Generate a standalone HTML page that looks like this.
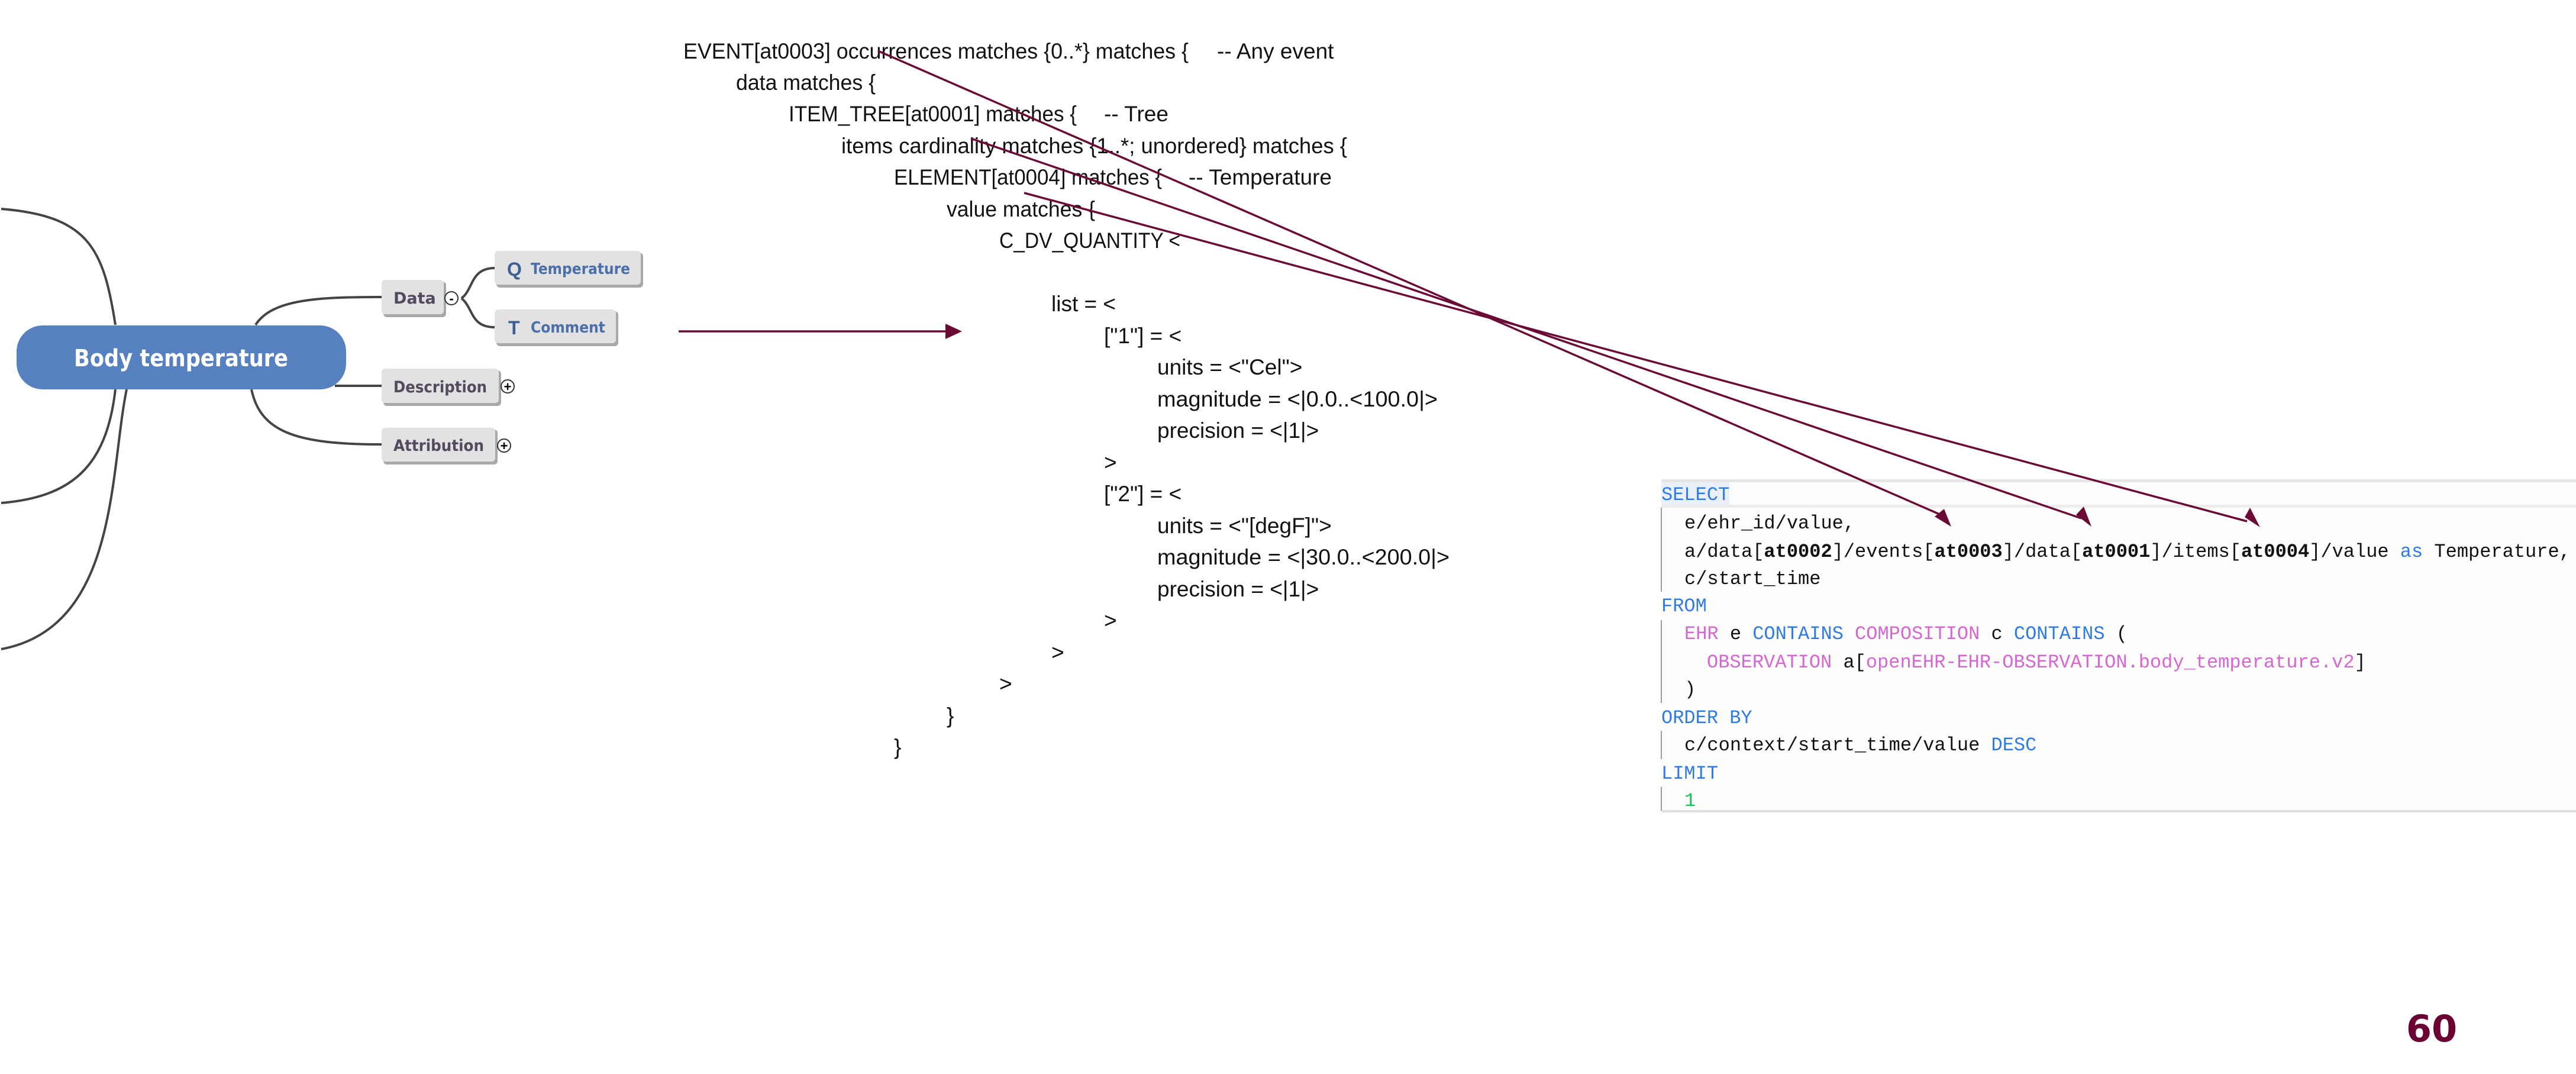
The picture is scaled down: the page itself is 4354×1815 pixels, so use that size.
<!DOCTYPE html>
<html><head><meta charset="utf-8"><style>
html,body{margin:0;padding:0;background:#fff}
svg{display:block}
.adl{font-family:"Liberation Sans",sans-serif;font-size:37px;fill:#111}
.mm{font-family:"DejaVu Sans","Liberation Sans",sans-serif;font-weight:bold}
.sql{font-family:"Liberation Mono",monospace;font-size:32px;fill:#111}
.kw{fill:#2f7be6}.mg{fill:#d766d4}.gr{fill:#17c25a}
</style></head><body>
<svg width="4354" height="1815" viewBox="0 0 4354 1815" xmlns="http://www.w3.org/2000/svg">
<defs>
<marker id="ah" markerWidth="10" markerHeight="8" refX="9" refY="4" orient="auto" markerUnits="userSpaceOnUse" viewBox="0 0 10 8" style="overflow:visible">
</marker>
</defs>
<!-- mind map curves -->
<g fill="none" stroke="#444" stroke-width="4">
<path d="M2,353 C150,365 175,420 195,549"/>
<path d="M195,658 C180,790 120,840 2,850"/>
<path d="M214,658 C185,800 200,1060 2,1097"/>
<path d="M432,549 C460,505 540,502 645,502"/>
<path d="M566,652 L645,652"/>
<path d="M425,658 C440,730 500,751 645,751"/>
<path d="M780,504 C800,490 795,453 836,453"/>
<path d="M780,504 C800,520 795,553 836,553"/>
</g>
<!-- main node -->
<rect x="28" y="550" width="557" height="108" rx="44" fill="#5780c0"/>
<text x="306" y="619" text-anchor="middle" class="mm" font-size="40" fill="#fff" textLength="362" lengthAdjust="spacingAndGlyphs">Body temperature</text>
<!-- child nodes -->
<g>
<rect x="648" y="476" width="106" height="60" rx="6" fill="#a9a9a9"/>
<rect x="645" y="473" width="105" height="58" rx="6" fill="#e2e2e2"/>
<text x="665" y="513" class="mm" font-size="27" fill="#544a60">Data</text>
<circle cx="763" cy="504" r="11" fill="#fff" stroke="#333" stroke-width="2"/>
<text x="763" y="512" text-anchor="middle" font-family="Liberation Sans" font-weight="bold" font-size="22" fill="#000">-</text>

<rect x="839" y="427" width="248" height="59" rx="6" fill="#a9a9a9"/>
<rect x="836" y="424" width="247" height="57" rx="6" fill="#e2e2e2"/>
<text x="857" y="466" font-family="Liberation Sans" font-weight="bold" font-size="32" fill="#3e5f95">Q</text>
<text x="897" y="463" class="mm" font-size="26" fill="#4a6fab" textLength="168" lengthAdjust="spacingAndGlyphs">Temperature</text>

<rect x="839" y="526" width="206" height="59" rx="6" fill="#a9a9a9"/>
<rect x="836" y="523" width="205" height="57" rx="6" fill="#e2e2e2"/>
<text x="859" y="565" font-family="Liberation Sans" font-weight="bold" font-size="32" fill="#3e5f95">T</text>
<text x="897" y="562" class="mm" font-size="26" fill="#4a6fab" textLength="126" lengthAdjust="spacingAndGlyphs">Comment</text>

<rect x="648" y="626" width="199" height="60" rx="6" fill="#a9a9a9"/>
<rect x="645" y="623" width="198" height="58" rx="6" fill="#e2e2e2"/>
<text x="665" y="663" class="mm" font-size="27" fill="#544a60" textLength="158" lengthAdjust="spacingAndGlyphs">Description</text>
<circle cx="858" cy="653" r="11" fill="#fff" stroke="#333" stroke-width="2"/>
<text x="858" y="661" text-anchor="middle" font-family="Liberation Sans" font-weight="bold" font-size="22" fill="#000">+</text>

<rect x="648" y="726" width="193" height="59" rx="6" fill="#a9a9a9"/>
<rect x="645" y="723" width="192" height="57" rx="6" fill="#e2e2e2"/>
<text x="665" y="762" class="mm" font-size="27" fill="#544a60" textLength="153" lengthAdjust="spacingAndGlyphs">Attribution</text>
<circle cx="852" cy="753" r="11" fill="#fff" stroke="#333" stroke-width="2"/>
<text x="852" y="761" text-anchor="middle" font-family="Liberation Sans" font-weight="bold" font-size="22" fill="#000">+</text>
</g>

<!-- ADL text -->
<g class="adl">
<text x="1155" y="99" textLength="854" lengthAdjust="spacingAndGlyphs">EVENT[at0003] occurrences matches {0..*} matches {</text>
<text x="2057" y="99">-- Any event</text>
<text x="1244" y="152" textLength="236" lengthAdjust="spacingAndGlyphs">data matches {</text>
<text x="1333" y="205" textLength="487" lengthAdjust="spacingAndGlyphs">ITEM_TREE[at0001] matches {</text>
<text x="1866" y="205">-- Tree</text>
<text x="1422" y="259" textLength="855" lengthAdjust="spacingAndGlyphs">items cardinality matches {1..*; unordered} matches {</text>
<text x="1511" y="312" textLength="453" lengthAdjust="spacingAndGlyphs">ELEMENT[at0004] matches {</text>
<text x="2009" y="312">-- Temperature</text>
<text x="1600" y="366" textLength="251" lengthAdjust="spacingAndGlyphs">value matches {</text>
<text x="1689" y="419" textLength="306" lengthAdjust="spacingAndGlyphs">C_DV_QUANTITY &lt;</text>
<text x="1777" y="526">list = &lt;</text>
<text x="1866" y="580">["1"] = &lt;</text>
<text x="1956" y="633">units = &lt;"Cel"&gt;</text>
<text x="1956" y="687" textLength="474" lengthAdjust="spacingAndGlyphs">magnitude = &lt;|0.0..&lt;100.0|&gt;</text>
<text x="1956" y="740">precision = &lt;|1|&gt;</text>
<text x="1866" y="794">&gt;</text>
<text x="1866" y="847">["2"] = &lt;</text>
<text x="1956" y="901">units = &lt;"[degF]"&gt;</text>
<text x="1956" y="954" textLength="494" lengthAdjust="spacingAndGlyphs">magnitude = &lt;|30.0..&lt;200.0|&gt;</text>
<text x="1956" y="1008">precision = &lt;|1|&gt;</text>
<text x="1866" y="1061">&gt;</text>
<text x="1777" y="1115">&gt;</text>
<text x="1689" y="1168">&gt;</text>
<text x="1600" y="1222">}</text>
<text x="1511" y="1275">}</text>
</g>

<!-- SQL box -->
<rect x="2808" y="810" width="1546" height="562" fill="#fdfdfb"/>
<rect x="2808" y="810" width="1546" height="5" fill="#e6e6e6"/>
<rect x="2808" y="853" width="1546" height="5" fill="#ececec"/>
<rect x="2808" y="815" width="115" height="38" fill="#e9f0fa"/>
<rect x="2808" y="1369" width="1546" height="4" fill="#e0e0e0"/>
<g fill="#9a9a9a">
<rect x="2807" y="858" width="2" height="142"/>
<rect x="2807" y="1048" width="2" height="140"/>
<rect x="2807" y="1235" width="2" height="48"/>
<rect x="2807" y="1330" width="2" height="40"/>
</g>
<g class="sql">
<text x="2808" y="845"><tspan class="kw">SELECT</tspan></text>
<text x="2847" y="893">e/ehr_id/value,</text>
<text x="2847" y="941">a/data[<tspan font-weight="bold">at0002</tspan>]/events[<tspan font-weight="bold">at0003</tspan>]/data[<tspan font-weight="bold">at0001</tspan>]/items[<tspan font-weight="bold">at0004</tspan>]/value <tspan class="kw">as</tspan> Temperature,</text>
<text x="2847" y="987">c/start_time</text>
<text x="2808" y="1033"><tspan class="kw">FROM</tspan></text>
<text x="2847" y="1080"><tspan class="mg">EHR</tspan> e <tspan class="kw">CONTAINS</tspan> <tspan class="mg">COMPOSITION</tspan> c <tspan class="kw">CONTAINS</tspan> (</text>
<text x="2885" y="1128"><tspan class="mg">OBSERVATION</tspan> a[<tspan class="mg">openEHR-EHR-OBSERVATION.body_temperature.v2</tspan>]</text>
<text x="2847" y="1174">)</text>
<text x="2808" y="1222"><tspan class="kw">ORDER BY</tspan></text>
<text x="2847" y="1268">c/context/start_time/value <tspan class="kw">DESC</tspan></text>
<text x="2808" y="1316"><tspan class="kw">LIMIT</tspan></text>
<text x="2847" y="1362"><tspan class="gr">1</tspan></text>
</g>

<!-- maroon arrows -->
<g stroke="#6b0a37" stroke-width="3.5" fill="none">
<line x1="1147" y1="560" x2="1600" y2="560"/>
<line x1="1484" y1="86" x2="3285" y2="872"/>
<line x1="1641" y1="234" x2="3518" y2="876"/>
<line x1="1731" y1="326" x2="3798" y2="881"/>
</g>
<g fill="#6b0a37">
<polygon points="1626,560 1598,547 1598,573"/>
<polygon points="3298,890 3270,873 3286,860"/>
<polygon points="3535,890 3509,870 3522,856"/>
<polygon points="3820,891 3794,874 3803,858"/>
</g>

<text x="4110" y="1760" text-anchor="middle" font-family="DejaVu Sans,Liberation Sans,sans-serif" font-weight="bold" font-size="62" fill="#6b0033">60</text>
</svg>
</body></html>
